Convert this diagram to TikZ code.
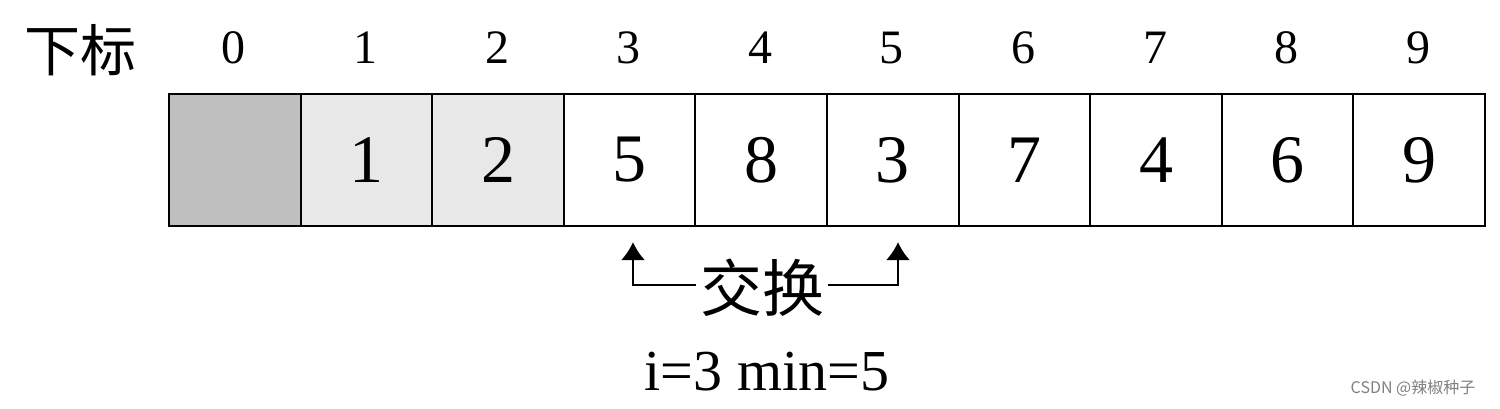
\documentclass[tikz,border=0pt]{standalone}
\usepackage{fontspec}
\usetikzlibrary{arrows.meta}
\setmainfont{Liberation Serif}
\newfontfamily\cjk{Noto Sans CJK SC}
\begin{document}
\begin{tikzpicture}[x=1pt,y=-1pt,
  cell/.style={draw,line width=2pt,minimum width=131.6pt,minimum height=132pt,inner sep=0pt,font=\fontsize{68}{68}\selectfont,anchor=north west},
  idx/.style={font=\fontsize{48}{48}\selectfont},
  arr/.style={line width=2.5pt,-{Latex[length=18pt,width=24pt]}}]
\useasboundingbox (0,0) rectangle (1500,408);
\node[font=\fontsize{56}{56}\selectfont\cjk] (lbl) at (80,50) {下标};
\foreach \i/\v/\f in {0//gray!50,1/1/gray!18,2/2/gray!18,3/5/white,4/8/white,5/3/white,6/7/white,7/4/white,8/6/white,9/9/white}{
  \node[cell,fill=\f] (c\i) at ({168+131.6*\i},93) {\v};
  \node[idx] (n\i) at ({168+131.6*\i+65.8},48) {\i};
}
\node[font=\fontsize{62}{62}\selectfont\cjk] (sw) at (762,288) {交换};
\coordinate (la) at (633,285);
\coordinate (ra) at (898,285);
\draw[arr] (sw.west |- la) -- (la) -- (633,242);
\draw[arr] (sw.east |- ra) -- (ra) -- (898,242);
\node[font=\fontsize{58}{58}\selectfont] (im) at (767,372) {i=3 min=5};
\node[font=\fontsize{16}{16}\selectfont\cjk,text=gray] (wm) at (1413,388) {CSDN @辣椒种子};
\end{tikzpicture}
\end{document}
